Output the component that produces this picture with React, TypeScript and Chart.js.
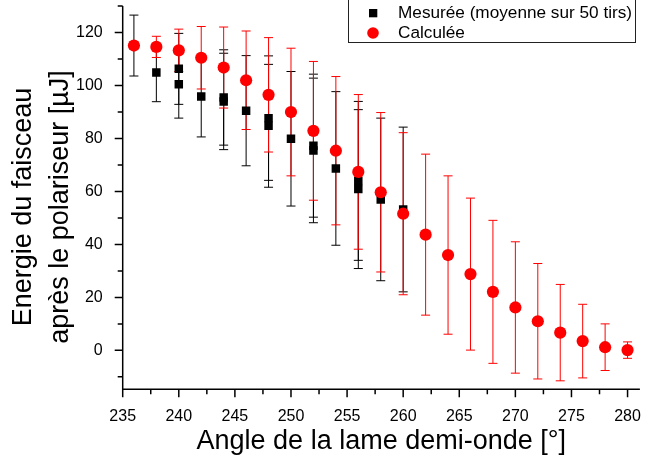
import React, { useEffect, useRef } from "react";
import { Chart, registerables } from "chart.js";

Chart.register(...registerables);

// ---- Data ----
const calcAngles = [236, 238, 240, 242, 244, 246, 248, 250, 252, 254, 256, 258, 260, 262, 264, 266, 268, 270, 272, 274, 276, 278, 280];
const calcValues = [115.1, 114.6, 113.3, 110.5, 106.8, 102.0, 96.5, 90.0, 82.9, 75.4, 67.4, 59.7, 51.6, 43.7, 36.0, 28.8, 22.1, 16.2, 11.0, 6.7, 3.5, 1.2, 0.1];
const calcErrors = [0, 4, 8, 11.8, 15.3, 18.6, 21.6, 24.1, 26.2, 28.0, 29.2, 30.1, 30.6, 30.4, 29.9, 28.7, 27.0, 24.8, 21.8, 18.2, 13.9, 8.8, 3.1];

const measAngles = [236, 238, 240, 240, 242, 244, 244, 246, 248, 248, 250, 252, 252, 254, 256, 256, 258, 260];
const measValues = [115.1, 104.9, 106.3, 100.5, 95.9, 95.5, 94.0, 90.5, 87.7, 84.8, 79.9, 77.3, 75.5, 68.7, 64.0, 60.9, 57.0, 53.2];
const measErrors = [11.5, 11.0, 13.4, 12.8, 15.3, 18.0, 18.2, 20.8, 23.5, 23.2, 25.4, 27.0, 27.3, 29.0, 30.0, 30.0, 30.7, 31.1];

const xTickValues = [235, 240, 245, 250, 255, 260, 265, 270, 275, 280];
const yTickValues = [0, 20, 40, 60, 80, 100, 120];

const measLabel = "Mesurée (moyenne sur 50 tirs)";
const calcLabel = "Calculée";
const xTitle = "Angle de la lame demi-onde [°]";
const yTitle = ["Energie du faisceau", "après le polariseur [µJ]"];

const X_MIN = 235;
const X_MAX = 281.1;
const Y_MIN = -14.7;
const Y_MAX = 130;

const FONT = "'Liberation Sans', Arial, Helvetica, sans-serif";

function drawBars(ctx: CanvasRenderingContext2D, xs: any, ys: any, xv: number[], yv: number[], ev: number[], color: string) {
  ctx.save();
  ctx.strokeStyle = color;
  ctx.lineWidth = 1;
  const cap = 4.5;
  for (let i = 0; i < xv.length; i++) {
    const e = ev[i];
    if (!e) continue;
    const px = xs.getPixelForValue(xv[i]);
    const pt = ys.getPixelForValue(yv[i] + e);
    const pb = ys.getPixelForValue(yv[i] - e);
    ctx.beginPath();
    ctx.moveTo(px, pt);
    ctx.lineTo(px, pb);
    ctx.moveTo(px - cap, pt);
    ctx.lineTo(px + cap, pt);
    ctx.moveTo(px - cap, pb);
    ctx.lineTo(px + cap, pb);
    ctx.stroke();
  }
  ctx.restore();
}

const framePlugin = {
  id: "frameAndBars",
  beforeDatasetsDraw(chart: any) {
    const ctx: CanvasRenderingContext2D = chart.ctx;
    const xs = chart.scales.x;
    const ys = chart.scales.y;
    const { left, right, top, bottom } = chart.chartArea;
    ctx.save();
    ctx.strokeStyle = "#000";
    ctx.lineWidth = 1.5;
    ctx.beginPath();
    ctx.moveTo(left, top);
    ctx.lineTo(left, bottom);
    ctx.lineTo(right, bottom);
    for (let v = X_MIN; v <= X_MAX + 1e-6; v += 2.5) {
      const major = xTickValues.includes(v);
      const px = xs.getPixelForValue(v);
      ctx.moveTo(px, bottom);
      ctx.lineTo(px, bottom + (major ? 8 : 5));
    }
    for (let v = -10; v <= Y_MAX + 1e-6; v += 10) {
      const major = yTickValues.includes(v);
      const py = ys.getPixelForValue(v);
      ctx.moveTo(left, py);
      ctx.lineTo(left - (major ? 8 : 5), py);
    }
    ctx.stroke();
    ctx.restore();

    drawBars(ctx, xs, ys, measAngles, measValues, measErrors, "#000000");
    drawBars(ctx, xs, ys, calcAngles, calcValues, calcErrors, "#ff0000");
  },
  afterDraw(chart: any) {
    const ctx: CanvasRenderingContext2D = chart.ctx;
    ctx.save();
    // y axis title (two lines, rotated)
    ctx.fillStyle = "#000";
    ctx.font = `27px ${FONT}`;
    ctx.textAlign = "center";
    ctx.textBaseline = "middle";
    const cy = 207;
    [24, 61].forEach((cx, i) => {
      ctx.save();
      ctx.translate(cx, cy);
      ctx.rotate(-Math.PI / 2);
      ctx.fillText(yTitle[i], 0, 0);
      ctx.restore();
    });

    // legend
    ctx.fillStyle = "#ffffff";
    ctx.fillRect(348, -1, 288, 44);
    ctx.strokeStyle = "#222";
    ctx.lineWidth = 1;
    ctx.strokeRect(348.5, -1, 287, 43.5);
    ctx.fillStyle = "#000";
    ctx.fillRect(369, 9, 8.3, 8.3);
    ctx.fillStyle = "#ff0000";
    ctx.beginPath();
    ctx.arc(373, 33, 5.8, 0, Math.PI * 2);
    ctx.fill();
    ctx.fillStyle = "#000";
    ctx.font = `17.2px ${FONT}`;
    ctx.textBaseline = "middle";
    ctx.textAlign = "left";
    ctx.fillText(measLabel, 398, 13.5);
    ctx.fillText(calcLabel, 398, 33.5);
    ctx.restore();
  },
};

export default function App() {
  const ref = useRef<HTMLCanvasElement | null>(null);
  useEffect(() => {
    if (!ref.current) return;
    const chart = new Chart(ref.current, {
      type: "scatter",
      data: {
        datasets: [
          {
            label: measLabel,
            data: measAngles.map((x, i) => ({ x, y: measValues[i] })),
            pointStyle: "rect",
            pointRadius: 6,
            pointHoverRadius: 6,
            pointBorderWidth: 0,
            backgroundColor: "#000000",
            borderColor: "#000000",
            order: 2,
          },
          {
            label: calcLabel,
            data: calcAngles.map((x, i) => ({ x, y: calcValues[i] })),
            pointStyle: "circle",
            pointRadius: 6.1,
            pointHoverRadius: 6.1,
            pointBorderWidth: 0,
            backgroundColor: "#ff0000",
            borderColor: "#ff0000",
            order: 1,
          },
        ],
      },
      options: {
        animation: false,
        responsive: false,
        devicePixelRatio: 1,
        layout: { padding: { top: 3, right: 0, bottom: 0, left: 0 } },
        plugins: { legend: { display: false }, tooltip: { enabled: false } },
        scales: {
          x: {
            type: "linear",
            min: X_MIN,
            max: X_MAX,
            grid: { display: false },
            border: { display: false },
            afterBuildTicks: (s: any) => {
              s.ticks = xTickValues.map((v) => ({ value: v }));
            },
            afterFit: (s: any) => {
              s.height = 73.7;
              s.paddingLeft = 0;
              s.paddingRight = 0;
            },
            ticks: {
              color: "#000",
              font: { family: FONT, size: 16 },
              padding: 10,
              maxRotation: 0,
              autoSkip: false,
              callback: (v: any) => String(v),
            },
            title: {
              display: true,
              text: xTitle,
              color: "#000",
              font: { family: FONT, size: 27, lineHeight: 1.2 },
              padding: { top: 0, bottom: 4.8 },
            },
          },
          y: {
            type: "linear",
            min: Y_MIN,
            max: Y_MAX,
            grid: { display: false },
            border: { display: false },
            afterBuildTicks: (s: any) => {
              s.ticks = yTickValues.map((v) => ({ value: v }));
            },
            afterFit: (s: any) => {
              s.width = 122.7;
              s.paddingTop = 0;
              s.paddingBottom = 0;
            },
            ticks: {
              color: "#000",
              font: { family: FONT, size: 16 },
              padding: 12,
              autoSkip: false,
              callback: (v: any) => String(v),
            },
            title: { display: false },
          },
        },
      },
      plugins: [framePlugin],
    } as any);
    return () => chart.destroy();
  }, []);
  return (
    <div style={{ position: "fixed", left: 0, top: 0, width: 646, height: 463, background: "#fff" }}>
      <canvas ref={ref} width={646} height={463} style={{ display: "block" }} />
    </div>
  );
}
